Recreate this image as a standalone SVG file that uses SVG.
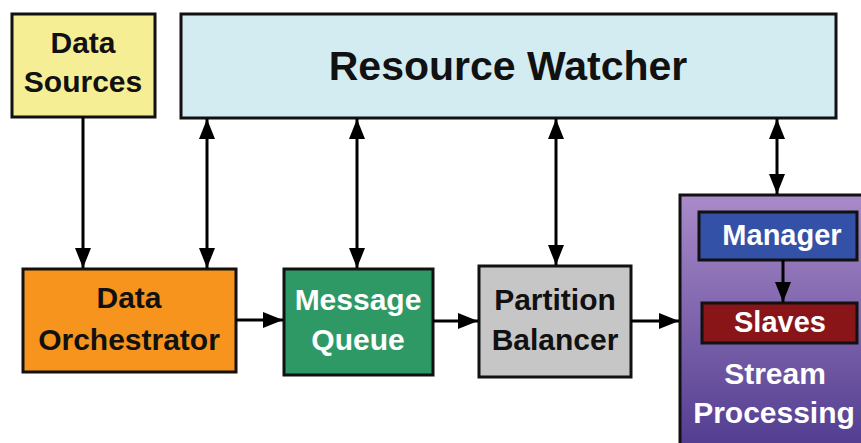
<svg xmlns="http://www.w3.org/2000/svg" width="861" height="443" viewBox="0 0 861 443">
<defs>
<linearGradient id="sp" x1="0" y1="0" x2="0" y2="1">
<stop offset="0" stop-color="#a98bc9"/>
<stop offset="1" stop-color="#4f3a8e"/>
</linearGradient>
<marker id="ah" viewBox="0 0 20 16" refX="20" refY="8" markerWidth="20" markerHeight="16" markerUnits="userSpaceOnUse" orient="auto-start-reverse">
<path d="M0,0 L20,8 L0,16 Z" fill="#000"/>
</marker>
</defs>
<style>
.box{stroke:#111;stroke-width:3}
.t{font-family:"Liberation Sans",Arial,sans-serif;font-weight:bold;font-size:30px;text-anchor:middle}
.w{fill:#fff}
.k{fill:#111}
.c{stroke:#000;stroke-width:3;fill:none}
</style>
<g id="data-sources">
<rect class="box" x="12" y="14" width="143" height="103" fill="#f6ee94"/>
<text class="t k" x="83" y="53">Data</text>
<text class="t k" x="83" y="92">Sources</text>
</g>
<g id="resource-watcher">
<rect class="box" x="181" y="14" width="655" height="104" fill="#d3ecf2"/>
<text class="t k" x="508" y="80" style="font-size:41px">Resource Watcher</text>
</g>
<g id="data-orchestrator">
<rect class="box" x="23" y="269" width="213" height="103" fill="#f7941d"/>
<text class="t k" x="129" y="308">Data</text>
<text class="t k" x="129" y="350">Orchestrator</text>
</g>
<g id="message-queue">
<rect class="box" x="284" y="269" width="149" height="106" fill="#2f9966"/>
<text class="t w" x="358" y="310">Message</text>
<text class="t w" x="358" y="350">Queue</text>
</g>
<g id="partition-balancer">
<rect class="box" x="479" y="266" width="152" height="111" fill="#c6c6c6"/>
<text class="t k" x="555" y="310">Partition</text>
<text class="t k" x="555" y="350">Balancer</text>
</g>
<g id="stream-processing">
<rect class="box" x="680" y="195" width="190" height="260" fill="url(#sp)"/>
<text class="t w" x="775" y="384">Stream</text>
<text class="t w" x="774" y="423">Processing</text>
</g>
<g id="manager">
<rect class="box" x="699" y="212" width="158" height="48" fill="#3451a8"/>
<text class="t w" x="782" y="245" style="font-size:29px">Manager</text>
</g>
<g id="slaves">
<rect class="box" x="702" y="303" width="155" height="40" fill="#8a1518"/>
<text class="t w" x="780" y="332" style="font-size:29px">Slaves</text>
</g>
<g id="connectors">
<line class="c" x1="83" y1="117" x2="83" y2="268" marker-end="url(#ah)"/>
<line class="c" x1="207" y1="119" x2="207" y2="268" marker-start="url(#ah)" marker-end="url(#ah)"/>
<line class="c" x1="357" y1="119" x2="357" y2="268" marker-start="url(#ah)" marker-end="url(#ah)"/>
<line class="c" x1="556" y1="119" x2="556" y2="265" marker-start="url(#ah)" marker-end="url(#ah)"/>
<line class="c" x1="777" y1="119" x2="777" y2="194" marker-start="url(#ah)" marker-end="url(#ah)"/>
<line class="c" x1="236" y1="320" x2="283" y2="320" marker-end="url(#ah)"/>
<line class="c" x1="433" y1="321" x2="478" y2="321" marker-end="url(#ah)"/>
<line class="c" x1="631" y1="321" x2="679" y2="321" marker-end="url(#ah)"/>
<line class="c" x1="783" y1="260" x2="783" y2="302" marker-end="url(#ah)"/>
</g>
</svg>
